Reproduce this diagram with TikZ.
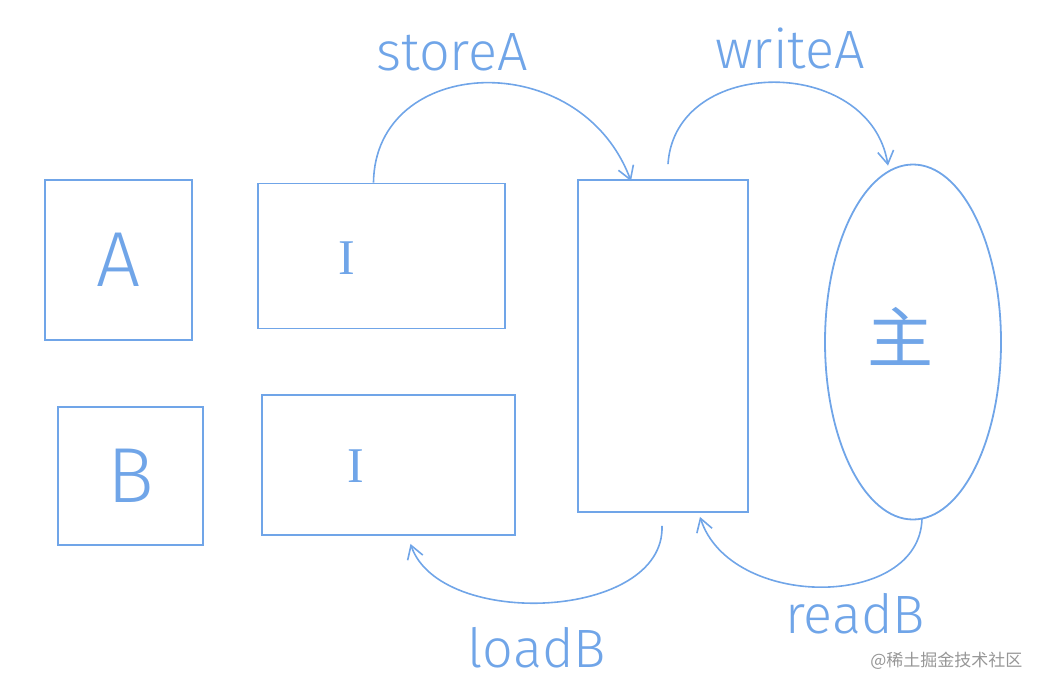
\documentclass[tikz,border=0pt]{standalone}
\usepackage{fontspec}
\setmainfont{Fira Sans}
\newfontfamily\cjk{Noto Sans CJK SC}
\newfontfamily\light{Fira Sans Light}
\newfontfamily\serifI{Liberation Serif}
\usetikzlibrary{shapes.geometric,arrows.meta,calc}
\definecolor{sk}{RGB}{112,165,232}
\definecolor{wm}{RGB}{150,150,150}
\tikzset{
  sbox/.style={draw=sk, line width=1.8pt, rectangle, inner sep=0pt, text=sk},
  sell/.style={draw=sk, line width=1.8pt, ellipse, inner sep=0pt, text=sk},
  sarr/.style={draw=sk, line width=1.6pt, -{Straight Barb[length=13pt,width=16pt,line width=1.6pt]}},
  slab/.style={text=sk, font=\fontsize{54}{58}\selectfont\light},
  ilab/.style={text=sk, font=\fontsize{50}{54}\selectfont\serifI},
}
\begin{document}
\begin{tikzpicture}[x=1pt,y=-1pt]
\useasboundingbox (0,0) rectangle (1046,691);
% boxes
\node[sbox, minimum width=147pt, minimum height=160pt, font=\fontsize{78}{80}\selectfont\light] (A) at (118.5,260) {A};
\node[sbox, minimum width=145pt, minimum height=138pt, font=\fontsize{78}{80}\selectfont\light] (B) at (130.5,476) {B};
\node[sbox, minimum width=247pt, minimum height=145pt] (I1) at (381.5,256) {};
\node[sbox, minimum width=253pt, minimum height=140pt] (I2) at (388.5,465) {};
\node[ilab] (I1t) at (347,258) {I};
\node[ilab] (I2t) at (356,466) {I};
\node[sbox, minimum width=170pt, minimum height=332pt] (mem) at (663,346) {};
\node[sell, minimum width=176pt, minimum height=355pt] (main) at (913,342) {};
\node[text=sk, font=\fontsize{66}{70}\selectfont\cjk] (maint) at (900,336) {主};
% connectors
\coordinate (sA) at ($(I1.north)+(-8,0)$);
\coordinate (eA) at ($(mem.north)+(-32,2)$);
\draw[sarr] (sA) .. controls (375,55) and (580,45) .. (eA);
\coordinate (sW) at ($(mem.north)+(5,-15)$);
\coordinate (eW) at ($(main.north)+(-25,2)$);
\draw[sarr] (sW) .. controls (675,55) and (870,55) .. (eW);
\coordinate (sL) at ($(mem.south)+(-1,13)$);
\coordinate (eL) at ($(I2.south)+(22,8)$);
\draw[sarr] (sL) .. controls (665,620) and (440,630) .. (eL);
\coordinate (sR) at ($(main.south)+(9,-2)$);
\coordinate (eR) at ($(mem.south)+(37,4)$);
\draw[sarr] (sR) .. controls (920,610) and (730,610) .. (eR);
% labels
\node[slab] (lstore) at (452,52) {storeA};
\node[slab] (lwrite) at (790,48) {writeA};
\node[slab] (lload) at (537,648) {loadB};
\node[slab] (lread) at (855,614) {readB};
\node[text=wm, font=\fontsize{17}{20}\selectfont\cjk, anchor=east] (wmk) at (1026,661) {@稀土掘金技术社区};
\end{tikzpicture}
\end{document}
